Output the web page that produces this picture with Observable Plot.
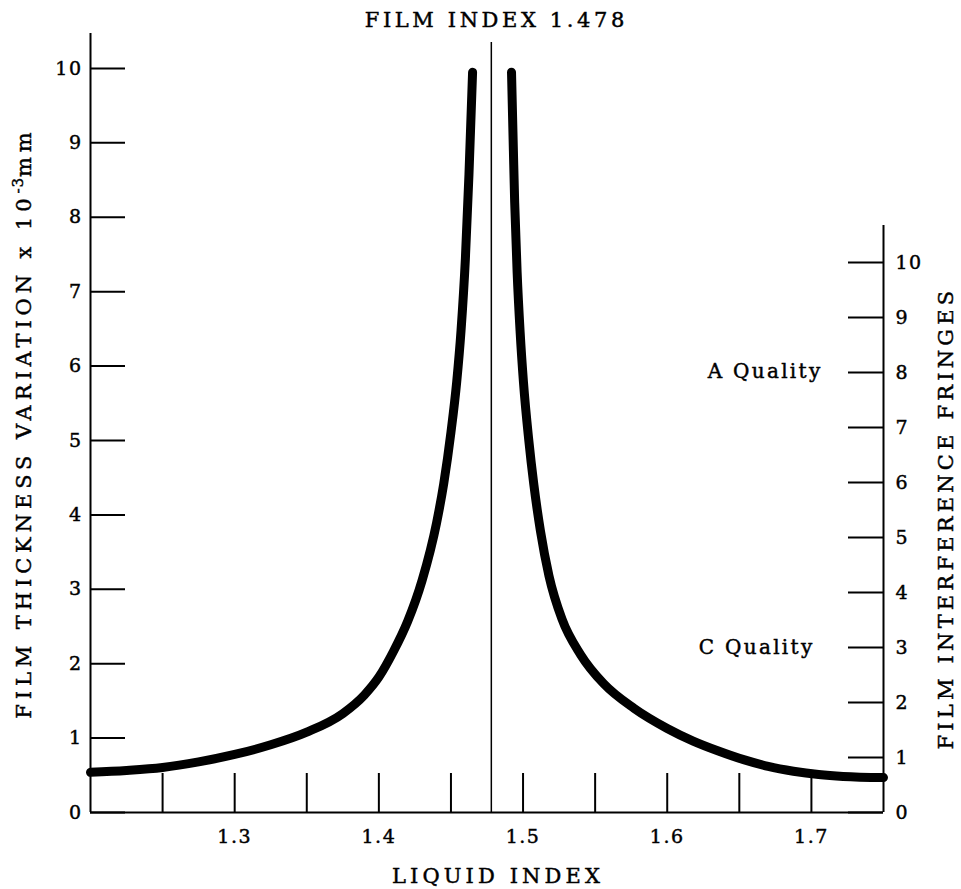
<!DOCTYPE html>
<html>
<head>
<meta charset="utf-8">
<script src="https://cdn.jsdelivr.net/npm/d3@7"></script>
<script src="https://cdn.jsdelivr.net/npm/@observablehq/plot@0.6"></script>
<style>
  html, body { margin: 0; padding: 0; background: #fff; }
  #chart svg text { stroke: #000; stroke-width: 0.45px; }
</style>
</head>
<body>
<div id="chart"></div>
<script>
// ---- data ----
const filmIndex = 1.478;
const leftBranchX = [1.200, 1.225, 1.250, 1.275, 1.300, 1.325, 1.350, 1.375, 1.390, 1.400, 1.410, 1.420, 1.430, 1.440, 1.445, 1.450, 1.454, 1.457, 1.460, 1.4625, 1.465];
const leftBranchY = [0.54, 0.565, 0.605, 0.68, 0.78, 0.91, 1.08, 1.33, 1.58, 1.82, 2.16, 2.57, 3.12, 3.89, 4.42, 5.11, 5.79, 6.48, 7.44, 8.58, 9.95];
const rightBranchX = [1.4920, 1.4933, 1.4942, 1.4959, 1.4980, 1.5003, 1.5040, 1.5074, 1.5121, 1.518, 1.527, 1.540, 1.556, 1.577, 1.600, 1.618, 1.635, 1.653, 1.670, 1.6875, 1.705, 1.722, 1.750];
const rightBranchY = [9.95, 8.90, 8.20, 7.26, 6.45, 5.78, 5.00, 4.42, 3.78, 3.18, 2.60, 2.12, 1.73, 1.40, 1.13, 0.96, 0.83, 0.71, 0.62, 0.555, 0.51, 0.485, 0.47];
const xTickMarks = [1.25, 1.30, 1.35, 1.40, 1.45, 1.50, 1.55, 1.60, 1.65, 1.70];
const xTickLabels = [1.3, 1.4, 1.5, 1.6, 1.7];
const thicknessTicks = [0, 1, 2, 3, 4, 5, 6, 7, 8, 9, 10];
const fringeTicks = [0, 1, 2, 3, 4, 5, 6, 7, 8, 9, 10];
const fringeToThickness = 0.7393; // 1 fringe in 10^-3 mm
const titleText = "FILM INDEX 1.478";
const xLabel = "LIQUID INDEX";
const yLeftLabelParts = ["FILM THICKNESS VARIATION x 10", "-3", "mm"];
const yRightLabel = "FILM INTERFERENCE FRINGES";
const qualityA = {label: "A Quality", f: 8};
const qualityC = {label: "C Quality", f: 3};

// ---- build ----
const curve = [
  ...leftBranchX.map((x, i) => ({x, y: leftBranchY[i], branch: "left"})),
  ...rightBranchX.map((x, i) => ({x, y: rightBranchY[i], branch: "right"}))
];
const yLeftLabel = yLeftLabelParts.join("");

const W = 961, H = 889;
const mL = 90, mR = 78, mT = 33, mB = 77;
const yMax = 10.47;
const pxPerY = (H - mT - mB) / yMax;
const pxPerX = (W - mL - mR) / 0.55;
const tickLenPx = 35;
const font = "DejaVu Serif";

const chart = Plot.plot({
  width: W,
  height: H,
  marginLeft: mL,
  marginRight: mR,
  marginTop: mT,
  marginBottom: mB,
  style: {fontFamily: font, fontSize: "19px", background: "#fff", color: "#000"},
  x: {domain: [1.2, 1.75]},
  y: {domain: [0, yMax]},
  marks: [
    // axis frame lines
    Plot.ruleY([0], {stroke: "#000", strokeWidth: 2}),
    Plot.ruleX([1.2], {stroke: "#000", strokeWidth: 2}),
    Plot.ruleX([1.75], {y1: 0, y2: 10.67 * fringeToThickness, stroke: "#000", strokeWidth: 2}),
    // film index line
    Plot.ruleX([filmIndex], {y1: 0, y2: 10.35, stroke: "#000", strokeWidth: 1.5}),
    // tick marks
    Plot.ruleX(xTickMarks, {y1: 0, y2: 39 / pxPerY, stroke: "#000", strokeWidth: 2}),
    Plot.ruleY(thicknessTicks, {x1: 1.2, x2: 1.2 + tickLenPx / pxPerX, stroke: "#000", strokeWidth: 2}),
    Plot.ruleY(fringeTicks, {y: d => d * fringeToThickness, x1: 1.75 - tickLenPx / pxPerX, x2: 1.75, stroke: "#000", strokeWidth: 2}),
    // tick labels
    Plot.axisX({ticks: xTickLabels, tickSize: 0, tickPadding: 17, tickFormat: d => d.toFixed(1), label: null, fontSize: 19}),
    Plot.axisY({anchor: "left", ticks: thicknessTicks, tickSize: 0, tickPadding: 8, tickFormat: d => String(d), label: null, fontSize: 19}),
    Plot.axisY({anchor: "right", ticks: fringeTicks.map(f => f * fringeToThickness), tickSize: 0, tickPadding: 12,
      tickFormat: d => String(Math.round(d / fringeToThickness)), label: null, fontSize: 19}),
    // curve
    Plot.line(curve, {x: "x", y: "y", z: "branch", curve: "monotone-x", stroke: "#000", strokeWidth: 9, strokeLinecap: "round"}),
    // quality labels
    Plot.text([qualityA], {x: () => 1.75, y: d => d.f * fringeToThickness, text: "label", textAnchor: "end",
      dx: -61, dy: -1, lineAnchor: "middle", fontSize: 20}),
    Plot.text([qualityC], {x: () => 1.75, y: d => d.f * fringeToThickness, text: "label", textAnchor: "end",
      dx: -69, dy: 0, lineAnchor: "middle", fontSize: 20}),
    // titles
    Plot.text([titleText], {text: d => d, x: () => filmIndex, frameAnchor: "top", dy: -13, dx: 5, textAnchor: "middle", lineAnchor: "middle", fontSize: 21}),
    Plot.text([xLabel], {text: d => d, frameAnchor: "bottom", dy: 64, dx: 11, textAnchor: "middle", lineAnchor: "middle", fontSize: 21}),
    Plot.text([yLeftLabel], {text: d => d, frameAnchor: "left", dx: -66, dy: 0, rotate: -90, textAnchor: "middle", lineAnchor: "middle", fontSize: 21}),
    Plot.text([yRightLabel], {text: d => d, frameAnchor: "right", dx: 63, dy: 95, rotate: -90, textAnchor: "middle", lineAnchor: "middle", fontSize: 21})
  ]
});

// letter spacing to match the wide face of the original
const spacing = new Map([[titleText, 3.6], [xLabel, 4.1], [yLeftLabel, 4.9], [yRightLabel, 4.2], [qualityA.label, 2.3], [qualityC.label, 2.3]]);
d3.select(chart).selectAll("text").each(function () {
  const t = this.textContent;
  this.setAttribute("letter-spacing", spacing.has(t) ? spacing.get(t) : 1.5);
  if (t === yLeftLabel) {
    // superscript exponent
    this.textContent = "";
    const sel = d3.select(this);
    sel.append("tspan").text(yLeftLabelParts[0]);
    sel.append("tspan").attr("dy", -8).attr("font-size", 15).attr("letter-spacing", 1).text(yLeftLabelParts[1]);
    sel.append("tspan").attr("dy", 8).text(yLeftLabelParts[2]);
  }
});
document.getElementById("chart").appendChild(chart);
</script>
</body>
</html>
